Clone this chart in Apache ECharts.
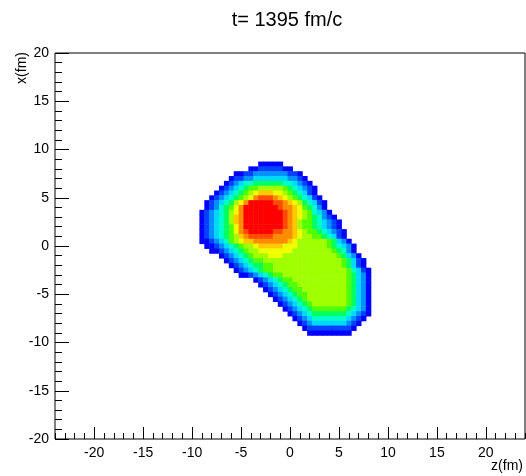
<!DOCTYPE html>
<html>
<head>
<meta charset="utf-8">
<script src="https://cdn.jsdelivr.net/npm/echarts@6/dist/echarts.min.js"></script>
<style>
  html, body { margin: 0; padding: 0; background: #ffffff; }
  #chart { width: 526px; height: 476px; }
</style>
</head>
<body>
<div id="chart"></div>
<script>
// Cell centres of the density map along z (columns) and x (rows), in fm
const zCells = [-10, -9.5, -9, -8.5, -8, -7.5, -7, -6.5, -6, -5.5, -5, -4.5, -4, -3.5, -3, -2.5, -2, -1.5, -1, -0.5,
                0, 0.5, 1, 1.5, 2, 2.5, 3, 3.5, 4, 4.5, 5, 5.5, 6, 6.5, 7, 7.5, 8, 8.5, 9];
const xCells = [8.5, 8, 7.5, 7, 6.5, 6, 5.5, 5, 4.5, 4, 3.5, 3, 2.5, 2, 1.5, 1, 0.5, 0,
                -0.5, -1, -1.5, -2, -2.5, -3, -3.5, -4, -4.5, -5, -5.5, -6, -6.5, -7, -7.5, -8, -8.5, -9];

// Contour level of each cell (hex digit, 1 = lowest, d = highest).
// rowStart gives the first filled column of each row; rowLevels the run of levels from there.
const rowStart = [14, 12, 9, 8, 7, 6, 5, 4, 3, 3, 2, 2, 2, 2, 2, 2, 2, 3,
                  4, 6, 7, 8, 9, 10, 13, 14, 15, 16, 17, 18, 19, 20, 21, 22, 23, 24];
const rowLevels = [
  '11111',
  '112222211',
  '11223333333221',
  '1223344444443321',
  '123455666666554321',
  '12345677888887654321',
  '123456789aaa998765421',
  '123456789bcccba98765421',
  '12345689bdddddccba9865421',
  '1235679bdddddddcbba976531',
  '12345689bddddddddcba9875431',
  '1234568abddddddddcba98765321',
  '1234568abddddddddcba877654321',
  '12345679bddddddddcba877654321',
  '12345679bcdddddccbba9877654321',
  '12345678abcccccbbbba9887765421',
  '112345789aabbbbbbba988888876431',
  '11234567889aaaaa999888888765431',
  '112345678899999998888888876531',
  '12345678889998888888888876431',
  '12345677888888888888888876421',
  '1234566778888888888888876421',
  '1234567788888888888888875421',
  '112345677888888888888876431',
  '123456778888888888876431',
  '12345677888888888876431',
  '1234567788888888876431',
  '123456778888888876431',
  '12345678888888876431',
  '1234567888888876431',
  '123456777777765431',
  '12345666666654321',
  '123455555554321',
  '1234444444321',
  '12222222221',
  '111111111'
];

// Fill colour of each contour level, from the outer edge to the peak
const levelColors = ['#0000ff', '#0042ff', '#0090ff', '#00d8ff', '#00ffc8', '#00ff60', '#50ff00',
                     '#a0ff00', '#f0ff00', '#ffc800', '#ff8c00', '#ff4a00', '#ff0000'];

const zMajorTicks = [-20, -15, -10, -5, 0, 5, 10, 15, 20];
const titleText = 't= 1395 fm/c';
const zTitle = 'z(fm)';
const xTitle = 'x(fm)';

const cellHalf = 0.25;
const fontFamily = '"Liberation Sans", Arial, sans-serif';

const cells = [];
rowLevels.forEach(function (run, r) {
  for (let j = 0; j < run.length; j++) {
    const level = parseInt(run[j], 16);
    if (level > 0) {
      cells.push([zCells[rowStart[r] + j], xCells[r], level]);
    }
  }
});

const chart = echarts.init(document.getElementById('chart'), null, { renderer: 'canvas' });

const tickLine = { color: '#000000', width: 1 };

chart.setOption({
  animation: false,
  backgroundColor: '#ffffff',
  grid: {
    left: 55, right: 1, top: 53, bottom: 37,
    show: true, borderColor: '#000000', borderWidth: 1, backgroundColor: 'transparent'
  },
  xAxis: [
    {
      type: 'value', min: -24, max: 24, interval: 1,
      axisLine: { show: false, onZero: false },
      axisTick: { show: true, inside: true, length: 6, lineStyle: tickLine },
      axisLabel: { show: false },
      splitLine: { show: false }
    },
    {
      type: 'value', position: 'bottom', min: -24, max: 24, interval: 1,
      axisLine: { show: false, onZero: false },
      axisTick: { show: true, inside: true, length: 12, lineStyle: tickLine, customValues: zMajorTicks },
      axisLabel: {
        customValues: zMajorTicks, fontSize: 14, color: '#000000', margin: 7, fontFamily: fontFamily,
        formatter: function (v) { return v % 5 === 0 ? String(v) : ''; }
      },
      splitLine: { show: false }
    }
  ],
  yAxis: {
    type: 'value', min: -20, max: 20, interval: 5,
    axisLine: { show: false, onZero: false },
    axisTick: { show: true, inside: true, length: 14, lineStyle: tickLine },
    minorTick: { show: true, splitNumber: 5, length: 7, lineStyle: tickLine },
    axisLabel: { fontSize: 14, color: '#000000', margin: 6, fontFamily: fontFamily },
    splitLine: { show: false },
    minorSplitLine: { show: false }
  },
  visualMap: {
    type: 'piecewise', show: false, dimension: 2, seriesIndex: 0,
    pieces: levelColors.map(function (c, i) { return { value: i + 1, color: c }; })
  },
  series: [{
    type: 'custom',
    xAxisIndex: 0, yAxisIndex: 0,
    silent: true,
    clip: true,
    encode: { x: 0, y: 1 },
    data: cells,
    renderItem: function (params, api) {
      const z = api.value(0);
      const x = api.value(1);
      const a = api.coord([z - cellHalf, x + cellHalf]);
      const b = api.coord([z + cellHalf, x - cellHalf]);
      return {
        type: 'rect',
        shape: { x: a[0], y: a[1], width: b[0] - a[0] + 0.5, height: b[1] - a[1] + 0.5 },
        style: { fill: api.visual('color') }
      };
    }
  }],
  graphic: [
    {
      type: 'text', x: 287, y: 20,
      style: { text: titleText, font: '20px ' + fontFamily, fill: '#000000', align: 'center', verticalAlign: 'middle' }
    },
    {
      type: 'text', x: 523, y: 466,
      style: { text: zTitle, font: '14px ' + fontFamily, fill: '#000000', align: 'right', verticalAlign: 'middle' }
    },
    {
      type: 'text', x: 22, y: 52, rotation: Math.PI / 2,
      style: { text: xTitle, font: '14px ' + fontFamily, fill: '#000000', align: 'right', verticalAlign: 'middle' }
    }
  ]
});
</script>
</body>
</html>
